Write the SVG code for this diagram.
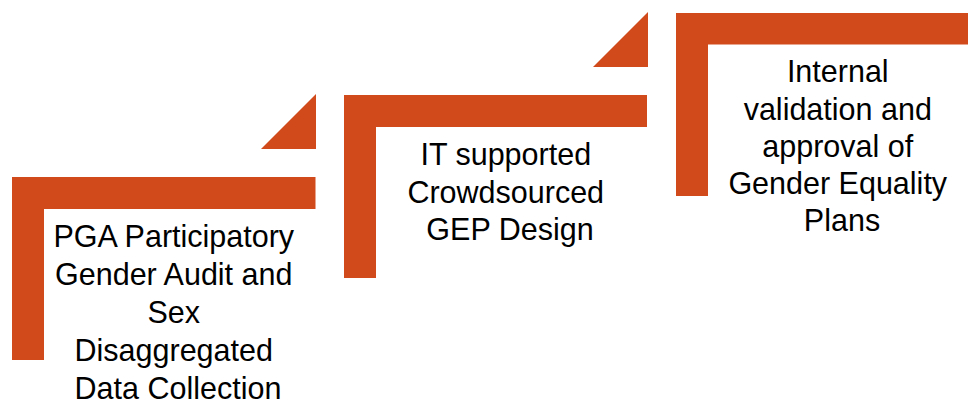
<svg xmlns="http://www.w3.org/2000/svg" width="968" height="403" viewBox="0 0 968 403">
  <style>
    .step { fill: #D14A1B; }
    .label { font-family: "Liberation Sans", Arial, sans-serif; font-size: 30.5px; fill: #000; text-anchor: middle; }
  </style>
  <rect width="968" height="403" fill="#fff"/>

  <!-- Step 1 -->
  <g id="step1">
    <path class="step" d="M12,177 H315.5 V209 H44 V360 H12 Z"/>
    <text class="label">
      <tspan x="178" y="247">PGA Participatory</tspan>
      <tspan x="178" y="285">Gender Audit and</tspan>
      <tspan x="178" y="323">Sex</tspan>
      <tspan x="178" y="361">Disaggregated</tspan>
      <tspan x="178" y="398.5">Data Collection</tspan>
    </text>
  </g>

  <!-- Step 2 -->
  <g id="step2">
    <path class="step" d="M344,95 H647 V127 H376 V278 H344 Z"/>
    <text class="label">
      <tspan x="510" y="165">IT supported</tspan>
      <tspan x="510" y="202.5">Crowdsourced</tspan>
      <tspan x="510" y="240">GEP Design</tspan>
    </text>
  </g>

  <!-- Step 3 -->
  <g id="step3">
    <path class="step" d="M676,13 H968 V44.5 H708 V196 H676 Z"/>
    <text class="label">
      <tspan x="842" y="82">Internal</tspan>
      <tspan x="842" y="120">validation and</tspan>
      <tspan x="842" y="157">approval of</tspan>
      <tspan x="842" y="194">Gender Equality</tspan>
      <tspan x="842" y="231">Plans</tspan>
    </text>
  </g>

  <!-- Connectors: triangular arrows between the steps -->
  <g id="connectors">
    <polygon class="step" points="316,94 316,149 261,149"/>
    <polygon class="step" points="648,12 648,67 593,67"/>
  </g>
</svg>
